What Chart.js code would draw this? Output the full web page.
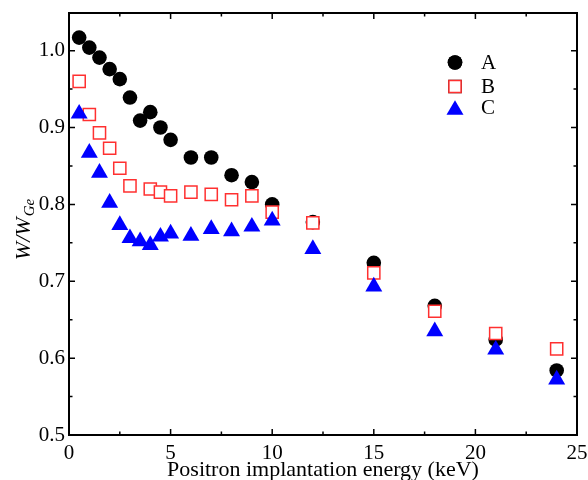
<!DOCTYPE html>
<html>
<head>
<meta charset="utf-8">
<script src="https://cdn.jsdelivr.net/npm/chart.js@4.4.1/dist/chart.umd.min.js"></script>
<style>
  html, body { margin: 0; padding: 0; background: #fff; }
  #wrap { width: 588px; height: 480px; }
</style>
</head>
<body>
<div id="wrap"><canvas id="chart" width="588" height="480"></canvas></div>
<script>
// series
const energyA = [0.5, 1, 1.5, 2, 2.5, 3, 3.5, 4, 4.5, 5, 6, 7, 8, 9, 10, 12, 15, 18, 21, 24];
const valuesA = [1.017, 1.004, 0.991, 0.976, 0.963, 0.939, 0.909, 0.920, 0.900, 0.884, 0.861, 0.861, 0.838, 0.829, 0.800, 0.777, 0.724, 0.668, 0.624, 0.584];

const energyB = [0.5, 1, 1.5, 2, 2.5, 3, 4, 4.5, 5, 6, 7, 8, 9, 10, 12, 15, 18, 21, 24];
const valuesB = [0.960, 0.917, 0.893, 0.873, 0.847, 0.824, 0.820, 0.816, 0.811, 0.816, 0.813, 0.806, 0.811, 0.790, 0.776, 0.711, 0.661, 0.632, 0.612];

const energyC = [0.5, 1, 1.5, 2, 2.5, 3, 3.5, 4, 4.5, 5, 6, 7, 8, 9, 10, 12, 15, 18, 21, 24];
const valuesC = [0.918, 0.867, 0.841, 0.802, 0.773, 0.756, 0.752, 0.747, 0.758, 0.762, 0.759, 0.768, 0.765, 0.771, 0.779, 0.742, 0.693, 0.635, 0.611, 0.572];

const seriesNames = ['A', 'B', 'C'];
const xTicks = [0, 5, 10, 15, 20, 25];
const yTicks = [0.5, 0.6, 0.7, 0.8, 0.9, 1.0];

const SERIF = '"Liberation Serif", "Times New Roman", serif';

function pairs(xs, ys) {
  return xs.map((x, i) => ({ x: x, y: ys[i] }));
}

// frame, inward ticks on all four sides, legend and the y title
const decorations = {
  id: 'decorations',
  afterDraw(chart) {
    const ctx = chart.ctx;
    const a = chart.chartArea;
    const sx = chart.scales.x, sy = chart.scales.y;
    ctx.save();
    ctx.strokeStyle = '#000';
    ctx.lineWidth = 2;
    ctx.strokeRect(a.left, a.top, a.right - a.left, a.bottom - a.top);

    ctx.lineWidth = 1.5;
    ctx.beginPath();
    for (let v = 0; v <= 25; v += 2.5) {
      const px = sx.getPixelForValue(v);
      const len = (v % 5 === 0) ? 6 : 3.5;
      ctx.moveTo(px, a.bottom); ctx.lineTo(px, a.bottom - len);
      ctx.moveTo(px, a.top); ctx.lineTo(px, a.top + len);
    }
    for (let v = 0.5; v <= 1.001; v += 0.05) {
      const py = sy.getPixelForValue(v);
      const major = Math.abs(Math.round(v * 10) - v * 10) < 1e-6;
      const len = major ? 6 : 3.5;
      ctx.moveTo(a.left, py); ctx.lineTo(a.left + len, py);
      ctx.moveTo(a.right, py); ctx.lineTo(a.right - len, py);
    }
    ctx.stroke();

    // legend
    const lx = 455, tx = 481;
    const rows = [62.5, 86.5, 107.5];
    chart.data.datasets.forEach((ds, i) => {
      const r = ds.pointRadius;
      Chart.helpers.drawPoint(ctx, {
        pointStyle: ds.pointStyle,
        radius: r,
        borderWidth: ds.pointBorderWidth
      }, lx, rows[i] + (ds.pointStyle === 'triangle' ? r / 4 : 0));
      ctx.fillStyle = ds.pointBackgroundColor;
      ctx.strokeStyle = ds.pointBorderColor;
      ctx.lineWidth = ds.pointBorderWidth;
      ctx.fill();
      if (ds.pointBorderWidth > 0) ctx.stroke();
    });
    ctx.fillStyle = '#000';
    ctx.font = '21px ' + SERIF;
    ctx.textAlign = 'left';
    ctx.textBaseline = 'middle';
    seriesNames.forEach((n, i) => ctx.fillText(n, tx, rows[i] + 1));

    // y title  W/W_Ge
    ctx.translate(22, 230);
    ctx.rotate(-Math.PI / 2);
    const main = 'W/W', sub = 'Ge';
    ctx.font = 'italic 22px ' + SERIF;
    const w1 = ctx.measureText(main).width;
    ctx.font = 'italic 15px ' + SERIF;
    const w2 = ctx.measureText(sub).width;
    const start = -(w1 + w2) / 2;
    ctx.textBaseline = 'alphabetic';
    ctx.font = 'italic 22px ' + SERIF;
    ctx.fillText(main, start, 8);
    ctx.font = 'italic 15px ' + SERIF;
    ctx.fillText(sub, start + w1 + 1, 12);
    ctx.restore();
  }
};

const ctx = document.getElementById('chart');

new Chart(ctx, {
  type: 'scatter',
  data: {
    datasets: [
      {
        label: seriesNames[0],
        data: pairs(energyA, valuesA),
        pointStyle: 'circle',
        pointRadius: 7.3,
        pointBorderWidth: 0,
        pointBackgroundColor: '#000000',
        pointBorderColor: '#000000',
        order: 3
      },
      {
        label: seriesNames[1],
        data: pairs(energyB, valuesB),
        pointStyle: 'rect',
        pointRadius: 8.6,
        pointBorderWidth: 1.5,
        pointBackgroundColor: '#ffffff',
        pointBorderColor: '#ff3030',
        order: 2
      },
      {
        label: seriesNames[2],
        data: pairs(energyC, valuesC),
        pointStyle: 'triangle',
        pointRadius: 9.8,
        pointBorderWidth: 0,
        pointBackgroundColor: '#0000ff',
        pointBorderColor: '#0000ff',
        order: 1
      }
    ]
  },
  options: {
    responsive: false,
    animation: false,
    layout: { padding: { top: 13, right: 11, left: 0, bottom: 0 } },
    plugins: {
      legend: { display: false },
      tooltip: { enabled: false }
    },
    scales: {
      x: {
        type: 'linear',
        min: 0,
        max: 25,
        grid: { display: false, drawTicks: false },
        border: { display: false },
        afterBuildTicks: (axis) => { axis.ticks = xTicks.map(v => ({ value: v })); },
        afterFit: (axis) => {
          axis.height = 45;
          axis.paddingLeft = 0;
          axis.paddingRight = 0;
        },
        ticks: {
          color: '#000',
          padding: 6,
          maxRotation: 0,
          font: { family: SERIF, size: 21 },
          callback: (v) => String(v)
        },
        title: {
          display: true,
          text: 'Positron implantation energy (keV)',
          color: '#000',
          font: { family: SERIF, size: 22 },
          padding: { top: 0, bottom: -3 }
        }
      },
      y: {
        type: 'linear',
        min: 0.5,
        max: 1.049,
        grid: { display: false, drawTicks: false },
        border: { display: false },
        afterBuildTicks: (axis) => { axis.ticks = yTicks.map(v => ({ value: v })); },
        afterFit: (axis) => {
          axis.width = 69;
          axis.paddingTop = 0;
          axis.paddingBottom = 0;
        },
        ticks: {
          color: '#000',
          padding: 4,
          font: { family: SERIF, size: 21 },
          callback: (v) => Number(v).toFixed(1)
        }
      }
    }
  },
  plugins: [decorations]
});
</script>
</body>
</html>
